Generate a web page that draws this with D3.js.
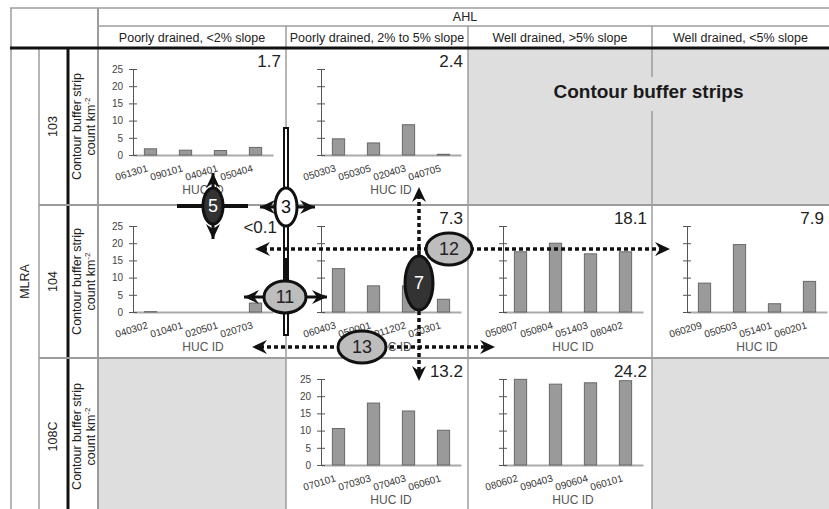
<!DOCTYPE html>
<html>
<head>
<meta charset="utf-8">
<script src="https://cdn.jsdelivr.net/npm/d3@7"></script>
<style>
body { margin: 0; background: #fff; }
svg { display: block; font-family: "Liberation Sans", Arial, sans-serif; }
</style>
</head>
<body>
<svg id="chart" width="829" height="509"></svg>
<script>
// table headers
const mlraRows = ["103", "104", "108C"];
const ahlCols = ["Poorly drained, <2% slope", "Poorly drained, 2% to 5% slope",
    "Well drained, >5% slope", "Well drained, <5% slope"];
const yTicks = [0, 5, 10, 15, 20, 25];

// one entry per panel
const panelRow = [0, 0, 1, 1, 1, 1, 2, 2];
const panelCol = [0, 1, 0, 1, 2, 3, 1, 2];
const panelMeans = ["1.7", "2.4", "<0.1", "7.3", "18.1", "7.9", "13.2", "24.2"];
const hucIds = [
    ["061301", "090101", "040401", "050404"],
    ["050303", "050305", "020403", "040705"],
    ["040302", "010401", "020501", "020703"],
    ["060403", "050001", "011202", "020301"],
    ["050807", "050804", "051403", "080402"],
    ["060209", "050503", "051401", "060201"],
    ["070101", "070303", "070403", "060601"],
    ["080602", "090403", "090604", "060101"]
];
const stripDensity = [
    [1.8, 1.4, 1.3, 2.2],
    [4.7, 3.5, 8.8, 0.2],
    [0.1, 0, 0, 2.6],
    [12.6, 7.6, 7.6, 3.7],
    [17.5, 20.0, 16.9, 17.5],
    [8.4, 19.6, 2.4, 8.9],
    [10.6, 18.0, 15.7, 10.1],
    [24.9, 23.5, 23.9, 24.5]
];
// cells with no data
const emptyCells = [[0, 2], [0, 3], [2, 0], [2, 3]];

// layout
const colX = [98, 286, 468, 652, 829];
const rowY = [48, 205, 358, 515];
const svg = d3.select("#chart");
const gridGray = "#9c9c9c";

// empty cells
svg.append("g").selectAll("rect")
    .data(emptyCells)
    .join("rect")
    .attr("x", d => colX[d[1]])
    .attr("y", d => rowY[d[0]])
    .attr("width", d => colX[d[1] + 1] - colX[d[1]])
    .attr("height", d => rowY[d[0] + 1] - rowY[d[0]])
    .attr("fill", "#dedede");

// grid lines
let lines = [
    [10, 8, 829, 8, gridGray, 1.5],
    [11, 8, 11, 509, gridGray, 1.5],
    [98, 8, 98, 509, gridGray, 2],
    [98, 26, 829, 26, gridGray, 1.5],
    [39, 48, 39, 509, gridGray, 1.5],
    [68, 48, 68, 509, "#111", 3],
    [286, 26, 286, 509, gridGray, 1.5],
    [468, 26, 468, 509, gridGray, 1.5],
    [652, 26, 652, 77, gridGray, 1.5],
    [652, 111, 652, 509, gridGray, 1.5],
    [39, 205, 829, 205, gridGray, 2],
    [39, 358, 829, 358, gridGray, 2],
    [10, 48, 829, 48, "#111", 3]
];
svg.append("g").selectAll("line")
    .data(lines)
    .join("line")
    .attr("x1", d => d[0]).attr("y1", d => d[1])
    .attr("x2", d => d[2]).attr("y2", d => d[3])
    .attr("stroke", d => d[4]).attr("stroke-width", d => d[5]);

// header texts
svg.append("text").attr("x", 465).attr("y", 21)
    .attr("text-anchor", "middle").attr("font-size", 12.5).attr("fill", "#222")
    .text("AHL");
svg.append("g").selectAll("text")
    .data(ahlCols)
    .join("text")
    .attr("x", (d, i) => (colX[i] + colX[i + 1]) / 2)
    .attr("y", 42)
    .attr("text-anchor", "middle").attr("font-size", 12.5).attr("fill", "#222")
    .text(d => d);

svg.append("text")
    .attr("transform", `translate(29,${(rowY[0] + rowY[3]) / 2}) rotate(-90)`)
    .attr("text-anchor", "middle").attr("font-size", 12.5).attr("fill", "#222")
    .text("MLRA");

let rowLabels = svg.append("g").selectAll("g")
    .data(mlraRows)
    .join("g")
    .attr("transform", (d, i) => `translate(0,${(rowY[i] + rowY[i + 1]) / 2})`);
rowLabels.append("text")
    .attr("transform", "translate(57,0) rotate(-90)")
    .attr("text-anchor", "middle").attr("font-size", 12.5).attr("fill", "#222")
    .text(d => d);
rowLabels.append("text")
    .attr("transform", "translate(81,0) rotate(-90)")
    .attr("text-anchor", "middle").attr("font-size", 12.5).attr("fill", "#222")
    .text("Contour buffer strip");
let unitText = rowLabels.append("text")
    .attr("transform", "translate(95,0) rotate(-90)")
    .attr("text-anchor", "middle").attr("font-size", 12.5).attr("fill", "#222");
unitText.append("tspan").text("count km");
unitText.append("tspan").attr("font-size", 8).attr("dy", -5).text("-2");

svg.append("text")
    .attr("x", (colX[2] + colX[4]) / 2).attr("y", 98)
    .attr("text-anchor", "middle").attr("font-size", 19).attr("font-weight", "bold")
    .attr("fill", "#1a1a1a")
    .text("Contour buffer strips");

// bar panels
const x = d3.scaleBand().domain(d3.range(4)).range([0, 140])
    .paddingInner(0.65).paddingOuter(0.325);
const y = d3.scaleLinear().domain([0, 25]).range([107, 21]);
const firstInRow = panelRow.map((r, i) => panelRow.indexOf(r) === i);

panelRow.forEach((r, i) => {
    const c = panelCol[i];
    const left = colX[c] + 35;
    const g = svg.append("g").attr("transform", `translate(${left},${rowY[r]})`);

    // x axis baseline and labels
    const xAxis = g.append("g")
        .attr("transform", `translate(0,${y(0)})`)
        .call(d3.axisBottom(x).tickSize(0).tickFormat(k => hucIds[i][k]));
    xAxis.select(".domain").attr("stroke", "#aaa").attr("stroke-width", 2);
    xAxis.selectAll("text")
        .attr("y", 0).attr("dy", 0)
        .attr("text-anchor", "end")
        .attr("transform", "translate(-2,16) rotate(-17)")
        .attr("font-size", 10).attr("font-family", "Liberation Sans, Arial, sans-serif")
        .attr("fill", "#333");

    g.append("g").selectAll("rect")
        .data(stripDensity[i])
        .join("rect")
        .attr("x", (d, k) => x(k))
        .attr("y", d => y(d))
        .attr("width", x.bandwidth())
        .attr("height", d => y(0) - y(d))
        .attr("fill", "#9a9a9a")
        .attr("stroke", "#686868")
        .attr("stroke-width", 1);

    const yAxis = g.append("g")
        .call(d3.axisLeft(y).tickValues(yTicks).tickSizeInner(4).tickSizeOuter(0)
            .tickPadding(6)
            .tickFormat(firstInRow[i] ? d3.format("d") : () => ""));
    yAxis.select(".domain").attr("stroke", "#555");
    yAxis.selectAll(".tick line").attr("x1", 4).attr("stroke", "#555");
    yAxis.selectAll(".tick text")
        .attr("font-size", 10).attr("font-family", "Liberation Sans, Arial, sans-serif")
        .attr("fill", "#444");

    g.append("text")
        .attr("x", 70).attr("y", y(0) + 39)
        .attr("text-anchor", "middle").attr("font-size", 12).attr("fill", "#555")
        .text("HUC ID");

    const lowMean = panelMeans[i].startsWith("<");
    g.append("text")
        .attr("x", colX[c + 1] - left - (lowMean ? 9 : 5))
        .attr("y", lowMean ? 28 : 19)
        .attr("text-anchor", "end").attr("font-size", 17).attr("fill", "#222")
        .text(panelMeans[i]);
});

// annotation arrows
const defs = svg.append("defs");
defs.append("marker")
    .attr("id", "head")
    .attr("viewBox", "-16 -8 17 16")
    .attr("refX", 0).attr("refY", 0)
    .attr("markerWidth", 17).attr("markerHeight", 16)
    .attr("markerUnits", "userSpaceOnUse")
    .attr("orient", "auto")
    .append("path")
    .attr("d", "M0,0 L-15,-7 L-10,0 L-15,7 Z")
    .attr("fill", "#111");

const ann = svg.append("g");

// hollow vertical bar along the column border
const bx = colX[1];
ann.append("line").attr("x1", bx).attr("x2", bx).attr("y1", 127).attr("y2", 336)
    .attr("stroke", "#111").attr("stroke-width", 6);
[[129, 258], [313, 334]].forEach(s => {
    ann.append("line").attr("x1", bx).attr("x2", bx).attr("y1", s[0]).attr("y2", s[1])
        .attr("stroke", "#fff").attr("stroke-width", 2);
});

// solid arrows
const solidArrows = [
    [286, 207, 260, 207], [286, 207, 315, 207],
    [213, 206, 213, 173], [213, 206, 213, 239],
    [285, 297, 244, 297], [285, 297, 327, 297]
];
ann.append("line").attr("x1", 177).attr("x2", 248).attr("y1", 206).attr("y2", 206)
    .attr("stroke", "#111").attr("stroke-width", 4);
ann.selectAll(".solid")
    .data(solidArrows)
    .join("line")
    .attr("x1", d => d[0]).attr("y1", d => d[1])
    .attr("x2", d => d[2]).attr("y2", d => d[3])
    .attr("stroke", "#111").attr("stroke-width", 3)
    .attr("marker-end", "url(#head)");

// dotted arrows
const dottedArrows = [
    [449, 249, 255, 249], [449, 249, 670, 249],
    [419, 283, 419, 187], [419, 283, 419, 381],
    [362, 347, 252, 347], [362, 347, 495, 347]
];
ann.selectAll(".dotted")
    .data(dottedArrows)
    .join("line")
    .attr("x1", d => d[0]).attr("y1", d => d[1])
    .attr("x2", d => d[2] - Math.sign(d[2] - d[0]) * 8).attr("y2", d => d[3] - Math.sign(d[3] - d[1]) * 8)
    .attr("stroke", "#111").attr("stroke-width", 3.5)
    .attr("stroke-dasharray", "4,3");
ann.selectAll(".dottedHead")
    .data(dottedArrows)
    .join("line")
    .attr("x1", d => d[2] - Math.sign(d[2] - d[0]) * 9).attr("y1", d => d[3] - Math.sign(d[3] - d[1]) * 9)
    .attr("x2", d => d[2]).attr("y2", d => d[3])
    .attr("stroke", "none")
    .attr("marker-end", "url(#head)");

// numbered ellipses
const ellipses = [
    { label: "3", cx: 286, cy: 207, rx: 11, ry: 19, fill: "#fff", text: "#111" },
    { label: "5", cx: 213, cy: 206, rx: 10, ry: 18, fill: "#333", text: "#fff" },
    { label: "11", cx: 285, cy: 297, rx: 21, ry: 16, fill: "#bdbdbd", text: "#222" },
    { label: "12", cx: 449, cy: 249, rx: 23, ry: 16, fill: "#bdbdbd", text: "#222" },
    { label: "7", cx: 419, cy: 283, rx: 14, ry: 27, fill: "#333", text: "#fff" },
    { label: "13", cx: 362, cy: 347, rx: 24, ry: 16, fill: "#bdbdbd", text: "#222" }
];
const eg = ann.selectAll(".ell")
    .data(ellipses)
    .join("g");
eg.append("ellipse")
    .attr("cx", d => d.cx).attr("cy", d => d.cy)
    .attr("rx", d => d.rx).attr("ry", d => d.ry)
    .attr("fill", d => d.fill)
    .attr("stroke", "#111").attr("stroke-width", 3);
eg.append("text")
    .attr("x", d => d.cx).attr("y", d => d.cy + 6)
    .attr("text-anchor", "middle").attr("font-size", 18)
    .attr("fill", d => d.text)
    .text(d => d.label);
</script>
</body>
</html>
